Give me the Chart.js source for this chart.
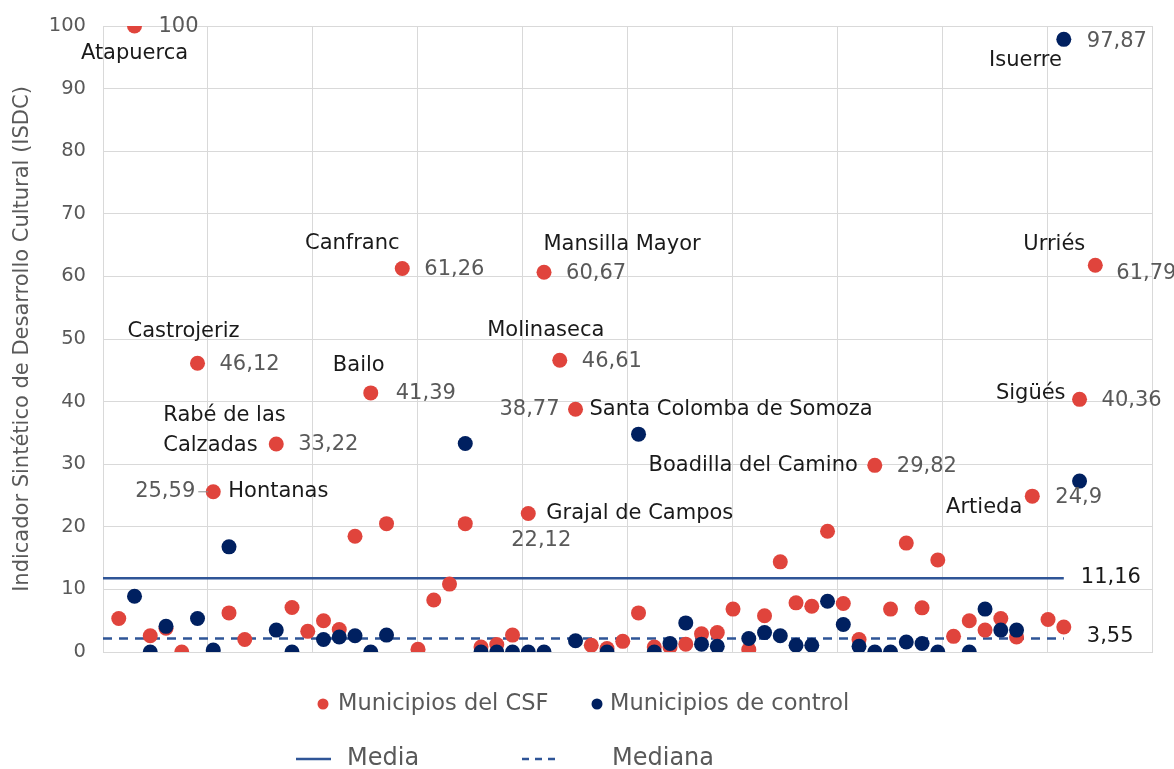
<!DOCTYPE html>
<html>
<head>
<meta charset="utf-8">
<script src="https://cdn.jsdelivr.net/npm/chart.js"></script>
<style>
body { margin: 0; background: #fff; }
canvas { display: block; }
</style>
</head>
<body>
<canvas id="isdcChart" width="1174" height="769"></canvas>
<script>
// municipios del CSF (rojo): posicion en el eje x y valor ISDC
const csfX = [1, 2, 3, 4, 5, 6, 7, 8, 9, 11, 12, 13, 14, 15, 16, 17, 18, 19, 20, 21, 22, 23, 24, 25, 26, 27, 28, 29, 30, 31, 32, 33, 34, 35, 36, 37, 38, 39, 40, 41, 42, 43, 44, 45, 46, 47, 48, 49, 50, 51, 52, 53, 54, 55, 56, 57, 58, 59, 60, 61, 62, 63];
const csfY = [5.35, 100, 2.6, 3.8, 0, 46.12, 25.59, 6.25, 2.0, 33.22, 7.1, 3.3, 5.0, 3.6, 18.5, 41.39, 20.5, 61.26, 0.45, 8.3, 10.85, 20.5, 0.8, 1.2, 2.7, 22.12, 60.67, 46.61, 38.77, 1.07, 0.55, 1.7, 6.25, 0.8, 0.8, 1.25, 2.9, 3.1, 6.85, 0.4, 5.8, 14.4, 7.85, 7.3, 19.3, 7.75, 2.0, 29.82, 6.85, 17.4, 7.05, 14.7, 2.5, 5.0, 3.5, 5.35, 2.4, 24.9, 5.2, 4.0, 40.36, 61.79];

// municipios de control (azul)
const controlX = [2, 3, 4, 6, 7, 8, 11, 12, 14, 15, 16, 17, 18, 23, 24, 25, 26, 27, 28, 30, 32, 34, 35, 36, 37, 38, 39, 41, 42, 43, 44, 45, 46, 47, 48, 49, 50, 51, 52, 53, 55, 56, 57, 58, 61, 62];
const controlY = [8.9, 0, 4.1, 5.35, 0.3, 16.8, 3.5, 0, 2.0, 2.4, 2.6, 0, 2.7, 33.3, 0, 0, 0, 0, 0, 1.8, 0, 34.8, 0, 1.35, 4.65, 1.25, 0.9, 2.15, 3.1, 2.6, 1.07, 1.07, 8.1, 4.4, 0.9, 0, 0, 1.6, 1.35, 0, 0, 6.85, 3.5, 3.5, 97.87, 27.3];

// media y mediana (posicion dibujada y texto)
const refLineX = [0, 61];
const mediaY = 11.8;
const medianaY = 2.15;
const mediaText = '11,16';
const medianaText = '3,55';

const seriesNames = ['Municipios del CSF', 'Municipios de control', 'Media', 'Mediana'];
const yTicks = [0, 10, 20, 30, 40, 50, 60, 70, 80, 90, 100];

// etiquetas de municipios: serie, x, nombre
const labelSeries = ['csf', 'csf', 'csf', 'csf', 'csf', 'csf', 'csf', 'csf', 'csf', 'csf', 'csf', 'csf', 'csf', 'control', 'csf'];
const labelX = [2, 6, 11, 7, 17, 19, 28, 29, 30, 27, 49, 59, 62, 61, 63];
const labelNames = ['Atapuerca', 'Castrojeriz', 'Rabé de las|Calzadas', 'Hontanas', 'Bailo', 'Canfranc', 'Mansilla Mayor', 'Molinaseca', 'Santa Colomba de Somoza', 'Grajal de Campos', 'Boadilla del Camino', 'Artieda', 'Sigüés', 'Isuerre', 'Urriés'];

// colocacion de los textos respecto al punto [dx, dy, align] para nombre y valor
const labelLayout = [
  { name: [0, 28, 'center'], value: [24, 1, 'left'] },
  { name: [-14, -32, 'center'], value: [22, 1, 'left'] },
  { name: [-113, -28, 'left'], value: [22, 1, 'left'] },
  { name: [15, 0, 'left'], value: [-18, 0, 'right'], leader: true },
  { name: [-12, -27, 'center'], value: [25, 1, 'left'] },
  { name: [-50, -25, 'center'], value: [22, 1, 'left'] },
  { name: [78, -28, 'center'], value: [22, 1, 'left'] },
  { name: [-14, -30, 'center'], value: [22, 1, 'left'] },
  { name: [14, 0, 'left'], value: [-16, 0, 'right'] },
  { name: [18, 0, 'left'], value: [13, 27, 'center'] },
  { name: [-17, 0, 'right'], value: [22, 1, 'left'] },
  { name: [-10, 11, 'right'], value: [23, 1, 'left'] },
  { name: [-14, -6, 'right'], value: [22, 1, 'left'] },
  { name: [-2, 21, 'right'], value: [23, 2, 'left'] },
  { name: [-10, -21, 'right'], value: [21, 8, 'left'] }
];

const RED = '#E0443C';
const NAVY = '#002060';
const LINE_BLUE = '#2F5597';
const GRID = '#D9D9D9';
const FONT = '"DejaVu Sans", sans-serif';

function toPoints(xs, ys) {
  return xs.map((x, i) => ({ x: x, y: ys[i] }));
}
function fmt(v) {
  return String(v).replace('.', ',');
}

const labelPlugin = {
  id: 'pointLabels',
  afterDatasetsDraw(chart) {
    const ctx = chart.ctx;
    ctx.save();
    ctx.textBaseline = 'middle';
    labelX.forEach((lx, k) => {
      const dsIndex = labelSeries[k] === 'csf' ? 0 : 1;
      const xs = dsIndex === 0 ? csfX : controlX;
      const ys = dsIndex === 0 ? csfY : controlY;
      const j = xs.indexOf(lx);
      const el = chart.getDatasetMeta(dsIndex).data[j];
      const px = el.x, py = el.y;
      const lay = labelLayout[k];
      ctx.font = '21px ' + FONT;
      ctx.fillStyle = '#1a1a1a';
      const lines = labelNames[k].split('|');
      lines.forEach((t, n) => {
        ctx.textAlign = lay.name[2];
        ctx.fillText(t, px + lay.name[0], py + lay.name[1] + n * 30);
      });
      ctx.fillStyle = '#595959';
      ctx.textAlign = lay.value[2];
      ctx.fillText(fmt(ys[j]), px + lay.value[0], py + lay.value[1]);
      if (lay.leader) {
        ctx.strokeStyle = '#8c8c8c';
        ctx.lineWidth = 1;
        ctx.beginPath();
        ctx.moveTo(px + lay.value[0] + 3, py);
        ctx.lineTo(px - 5, py);
        ctx.stroke();
      }
    });

    // textos de media y mediana al final de las lineas
    const xs = chart.scales.x, ysc = chart.scales.y;
    const endX = xs.getPixelForValue(refLineX[1]);
    ctx.fillStyle = '#1a1a1a';
    ctx.textAlign = 'left';
    ctx.fillText(mediaText, endX + 17, ysc.getPixelForValue(mediaY) - 1);
    ctx.fillText(medianaText, endX + 23, ysc.getPixelForValue(medianaY) - 2);
    ctx.restore();
  },
  afterDraw(chart) {
    // leyenda en dos filas
    const ctx = chart.ctx;
    ctx.save();
    ctx.textBaseline = 'middle';
    ctx.textAlign = 'left';
    const row1 = 704, row2 = 759;
    ctx.fillStyle = RED;
    ctx.beginPath(); ctx.arc(323, row1, 5.5, 0, Math.PI * 2); ctx.fill();
    ctx.fillStyle = NAVY;
    ctx.beginPath(); ctx.arc(597, row1, 5.5, 0, Math.PI * 2); ctx.fill();
    ctx.fillStyle = '#595959';
    ctx.font = '22.5px ' + FONT;
    ctx.fillText(seriesNames[0], 338, row1);
    ctx.fillText(seriesNames[1], 610, row1);

    ctx.strokeStyle = LINE_BLUE;
    ctx.lineWidth = 2.5;
    ctx.beginPath(); ctx.moveTo(296, row2); ctx.lineTo(331, row2); ctx.stroke();
    ctx.setLineDash([7, 6]);
    ctx.beginPath(); ctx.moveTo(522, row2); ctx.lineTo(560, row2); ctx.stroke();
    ctx.setLineDash([]);
    ctx.font = '24px ' + FONT;
    ctx.fillText(seriesNames[2], 347, row2);
    ctx.fillText(seriesNames[3], 612, row2);
    ctx.restore();
  }
};

new Chart(document.getElementById('isdcChart'), {
  type: 'scatter',
  data: {
    datasets: [
      {
        label: seriesNames[0],
        data: toPoints(csfX, csfY),
        backgroundColor: RED,
        borderColor: RED,
        pointRadius: 7.5,
        borderWidth: 0,
        order: 2
      },
      {
        label: seriesNames[1],
        data: toPoints(controlX, controlY),
        backgroundColor: NAVY,
        borderColor: NAVY,
        pointRadius: 7.5,
        borderWidth: 0,
        order: 1
      },
      {
        type: 'line',
        label: seriesNames[2],
        data: toPoints(refLineX, [mediaY, mediaY]),
        borderColor: LINE_BLUE,
        borderWidth: 2.5,
        pointRadius: 0,
        fill: false,
        order: 3
      },
      {
        type: 'line',
        label: seriesNames[3],
        data: toPoints(refLineX, [medianaY, medianaY]),
        borderColor: LINE_BLUE,
        borderWidth: 2.5,
        borderDash: [9, 7],
        pointRadius: 0,
        fill: false,
        order: 3
      }
    ]
  },
  options: {
    responsive: false,
    animation: false,
    layout: { padding: { top: 26, right: 22, bottom: 117, left: 0 } },
    plugins: {
      legend: { display: false },
      tooltip: { enabled: false }
    },
    scales: {
      x: {
        type: 'linear',
        min: 0,
        max: 66.6,
        afterBuildTicks: (axis) => {
          axis.ticks = Array.from({ length: 11 }, (_, i) => ({ value: i * 6.66 }));
        },
        ticks: { display: false },
        grid: { color: GRID, drawTicks: false },
        border: { color: GRID }
      },
      y: {
        min: 0,
        max: 100,
        afterBuildTicks: (axis) => {
          axis.ticks = yTicks.map(v => ({ value: v }));
        },
        afterFit: (scale) => {
          scale.width = 103;
          scale.paddingTop = 0;
          scale.paddingBottom = 0;
        },
        ticks: {
          color: '#595959',
          font: { family: FONT, size: 19.5 },
          padding: 17
        },
        grid: { color: GRID, drawTicks: false },
        border: { color: GRID },
        title: {
          display: true,
          text: 'Indicador Sintético de Desarrollo Cultural (ISDC)',
          color: '#595959',
          font: { family: FONT, size: 21 },
          padding: { top: 10, bottom: 0 }
        }
      }
    }
  },
  plugins: [labelPlugin]
});
</script>
</body>
</html>
